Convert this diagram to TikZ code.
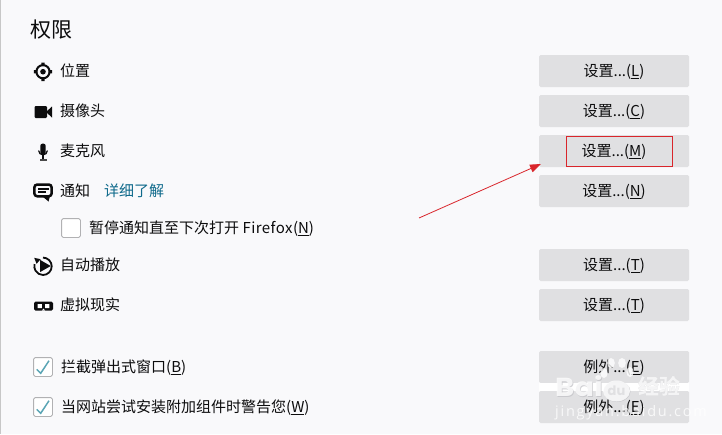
\documentclass[tikz,border=0pt]{standalone}
\usepackage{fontspec}
\setmainfont{Noto Sans CJK SC}
\newfontfamily\spaced{Noto Sans CJK SC}[LetterSpace=3]
\newfontfamily\wide{Open Sans}[LetterSpace=12]
\newfontfamily\wbold{Poppins}
\usetikzlibrary{arrows.meta}
\definecolor{pagebg}{HTML}{F9F9FB}
\definecolor{btnbg}{HTML}{E0E0E2}
\definecolor{inkc}{HTML}{0C0C0D}
\definecolor{linkc}{HTML}{0F6A8B}
\definecolor{boxline}{HTML}{B1B1B3}
\definecolor{checkc}{HTML}{5AA5B5}
\definecolor{redc}{HTML}{D9252B}
\definecolor{wmshade}{HTML}{C4C4C8}
\newcommand{\ul}[1]{\underline{#1}}
\tikzset{
 x=1pt,y=-1pt,
 lbl/.style={anchor=west,inner sep=0pt,text=inkc,text height=13.2pt,text depth=1.8pt,font=\fontsize{15}{16}\selectfont},
 btn/.style={fill=btnbg,rounded corners=1.5pt,minimum width=150pt,minimum height=32pt,inner sep=0pt,text=inkc,text height=13.2pt,text depth=1.8pt,font=\fontsize{15}{16}\selectfont},
 cbox/.style={draw=boxline,fill=white,rounded corners=1.5pt,line width=.8pt,minimum size=18.8pt,inner sep=0pt},
 chk/.style={draw=checkc,line width=1.5pt},
 icon/.style={fill=inkc,draw=none},
 wmtext/.style={text=white,opacity=.8,inner sep=0pt,anchor=west},
 wmfill/.style={fill=white,opacity=.8},
 wmbold/.style={font=\fontsize{26}{28}\wbold\bfseries,xscale=1.12},
 wmcjk/.style={font=\fontsize{21}{22}\selectfont\bfseries}
}
\begin{document}
\begin{tikzpicture}
\useasboundingbox (0,0) rectangle (722,434);
\fill[pagebg] (0,0) rectangle (722,434);
\fill[black!22] (0,0) rectangle (1,434);
% title
\node[lbl,text height=18.5pt,text depth=2.5pt,font=\fontsize{21}{24}\selectfont] (title) at (30,29.5) {权限};
% rows
\node[lbl] (t1) at (60,71) {位置};
\node[lbl] (t2) at (60,111) {摄像头};
\node[lbl] (t3) at (60,151) {麦克风};
\node[lbl] (t4) at (60,191) {通知};
\node[lbl,text=linkc] (t4b) at (104,191) {详细了解};
\node[cbox] (c0) at (71,228) {};
\node[lbl] (t5) at (89,228) {暂停通知直至下次打开 {\spaced Firefox(\ul{N})}};
\node[lbl] (t6) at (60,265) {自动播放};
\node[lbl] (t7) at (60,305) {虚拟现实};
\node[cbox] (c1) at (43,367) {};
\node[lbl] (t8) at (61,367) {拦截弹出式窗口(\ul{B})};
\node[cbox] (c2) at (43,407) {};
\node[lbl] (t9) at (61,407) {当网站尝试安装附加组件时警告您(\ul{W})};
\draw[chk] (36.7,369.3) -- (40.7,373.3) -- (49,360.7);
\draw[chk] (36.7,409.3) -- (40.7,413.3) -- (49,400.7);
% location icon
\draw[inkc,line width=2pt] (43,71.7) circle (6.6);
\fill[inkc] (43,71.7) circle (2.8);
\fill[inkc] (41.4,62.5) rectangle (44.6,66) (41.4,77.4) rectangle (44.6,81) (33.8,70.1) rectangle (37.3,73.3) (48.7,70.1) rectangle (52.2,73.3);
% camera icon
\fill[icon,rounded corners=1.2pt] (34.5,106) rectangle (47,118);
\fill[icon] (46,112) -- (52,106.5) -- (52,117.5) -- cycle;
% microphone icon
\fill[icon,rounded corners=2.4pt] (40.3,143.5) rectangle (45.7,155);
\draw[inkc,line width=1.2pt] (38.6,150.5) arc[start angle=180,end angle=0,radius=4.4];
\draw[inkc,line width=1.2pt] (43,155) -- (43,159);
\fill[inkc!75] (39.5,159) rectangle (46.5,160.6);
% notification icon
\fill[icon] (42,196) -- (50,196) -- (48.5,201.5) -- cycle;
\draw[inkc,line width=2.5pt,rounded corners=3pt,fill=pagebg] (34.3,184.5) rectangle (51.7,196.3);
\fill[inkc] (37.5,187.8) rectangle (48.5,189.6);
\fill[inkc] (37.5,191.2) rectangle (45.5,193);
% autoplay icon
\draw[inkc,line width=1.8pt] (43,257.6) arc[start angle=-90,end angle=195,radius=8.7];
\fill[icon] (34.2,257.8) -- (36.6,263.8) -- (40.6,259.2) -- cycle;
\fill[icon] (40.2,260) -- (50.7,266) -- (40.2,272) -- cycle;
% VR icon
\fill[icon,rounded corners=1.5pt] (34,301.5) rectangle (53,310.5);
\fill[white] (37.6,304) rectangle (41.8,308) (45.2,304) rectangle (49.4,308);
\fill[pagebg] (41.8,310.6) -- (43.5,308.6) -- (45.2,310.6) -- cycle;
% buttons
\node[btn] (b1) at (614,71) {设置...(\ul{L})};
\node[btn] (b2) at (614,111) {设置...(\ul{C})};
\node[btn] (b3) at (614,151) {设置...(\ul{M})};
\node[btn] (b4) at (614,191) {设置...(\ul{N})};
\node[btn] (b5) at (614,265) {设置...(\ul{T})};
\node[btn] (b6) at (614,305) {设置...(\ul{T})};
\node[btn] (b7) at (614,367) {例外...(\ul{E})};
\node[btn] (b8) at (614,407) {例外...(\ul{E})};
% highlight
\node[draw=redc,line width=.9pt,minimum width=106.5pt,minimum height=30.5pt,inner sep=0pt] (hl) at (619.4,151.4) {};
\coordinate (tail) at (419,218);
\coordinate (tip) at (541,164);
\draw[redc,line width=.8pt,-{Triangle[length=11pt,width=8pt]}] (tail) -- (tip);
% watermark
\fill[white] (539,383) rectangle (689,391);
\node[wmtext,wmbold,text=wmshade] (wm1s) at (555.7,386.7) {Bai};
\node[wmtext,wmcjk,text=wmshade] (wm3s) at (638.7,386.7) {经验};
\fill[wmshade,opacity=.78] (617,391.5) ellipse (13.5 and 10.5);
\node[wmtext,wmbold] (wm1) at (555,386) {Bai};
\fill[wmfill] (616.5,391) ellipse (13.5 and 10.5);
\node[text=btnbg,inner sep=0pt,font=\fontsize{13}{14}\wbold\bfseries] (wm2) at (616.5,390.5) {du};
\fill[wmfill] (604,373) ellipse (3.6 and 5) (611,363) ellipse (3.8 and 5) (622,363) ellipse (3.8 and 5) (630,372) ellipse (3.6 and 5);
\node[wmtext,wmcjk] (wm3) at (638,386) {经验};
\node[wmtext,font=\fontsize{14.5}{16}\wide] (wm4) at (555,413) {jingyan.baidu.com};
\end{tikzpicture}
\end{document}
